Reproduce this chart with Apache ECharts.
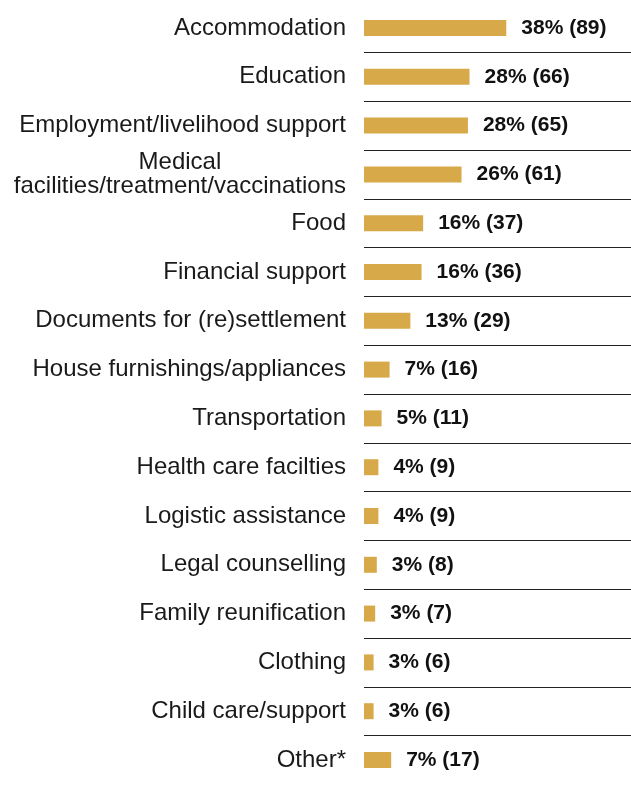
<!DOCTYPE html>
<html>
<head>
<meta charset="utf-8">
<script src="https://cdn.jsdelivr.net/npm/echarts@6/dist/echarts.min.js"></script>
<style>
  html, body { margin: 0; padding: 0; background: #fff; }
  #chart { width: 631px; height: 787px; }
</style>
</head>
<body>
<div id="chart"></div>
<script>
// Support needs reported, share of respondents and number of mentions
const categories = [
  'Accommodation',
  'Education',
  'Employment/livelihood support',
  'Medical\nfacilities/treatment/vaccinations',
  'Food',
  'Financial support',
  'Documents for (re)settlement',
  'House furnishings/appliances',
  'Transportation',
  'Health care facilties',
  'Logistic assistance',
  'Legal counselling',
  'Family reunification',
  'Clothing',
  'Child care/support',
  'Other*'
];
const percents = [38, 28, 28, 26, 16, 16, 13, 7, 5, 4, 4, 3, 3, 3, 3, 7];
const counts = [89, 66, 65, 61, 37, 36, 29, 16, 11, 9, 9, 8, 7, 6, 6, 17];

const FONT = '"Liberation Sans", Arial, sans-serif';

const chart = echarts.init(document.getElementById('chart'), null, { renderer: 'canvas' });

chart.setOption({
  animation: false,
  grid: { left: 364, right: 0, top: 3.6, bottom: 2.6, containLabel: false },
  xAxis: {
    type: 'value',
    min: 0,
    max: 167,
    show: false
  },
  yAxis: {
    type: 'category',
    inverse: true,
    data: categories,
    axisLine: { show: false },
    axisTick: { show: false },
    splitLine: {
      show: true,
      showMinLine: false,
      showMaxLine: false,
      lineStyle: { color: '#222', width: 1 }
    },
    axisLabel: {
      margin: 18,
      color: '#1a1a1a',
      fontFamily: FONT,
      fontSize: 24,
      lineHeight: 24,
      formatter: function (value) {
        if (value.indexOf('\n') >= 0) {
          return value.split('\n').map(function (s) { return '{c|' + s + '}'; }).join('\n');
        }
        return value;
      },
      rich: {
        c: { align: 'center', fontFamily: FONT, fontSize: 24, lineHeight: 24, color: '#1a1a1a' }
      }
    }
  },
  series: [{
    type: 'bar',
    data: counts,
    barWidth: 16,
    itemStyle: { color: '#D8A948' },
    label: {
      show: true,
      position: 'right',
      distance: 15,
      color: '#111',
      fontFamily: FONT,
      fontWeight: 'bold',
      fontSize: 21,
      formatter: function (p) {
        return percents[p.dataIndex] + '% (' + counts[p.dataIndex] + ')';
      }
    }
  }]
});
</script>
</body>
</html>
